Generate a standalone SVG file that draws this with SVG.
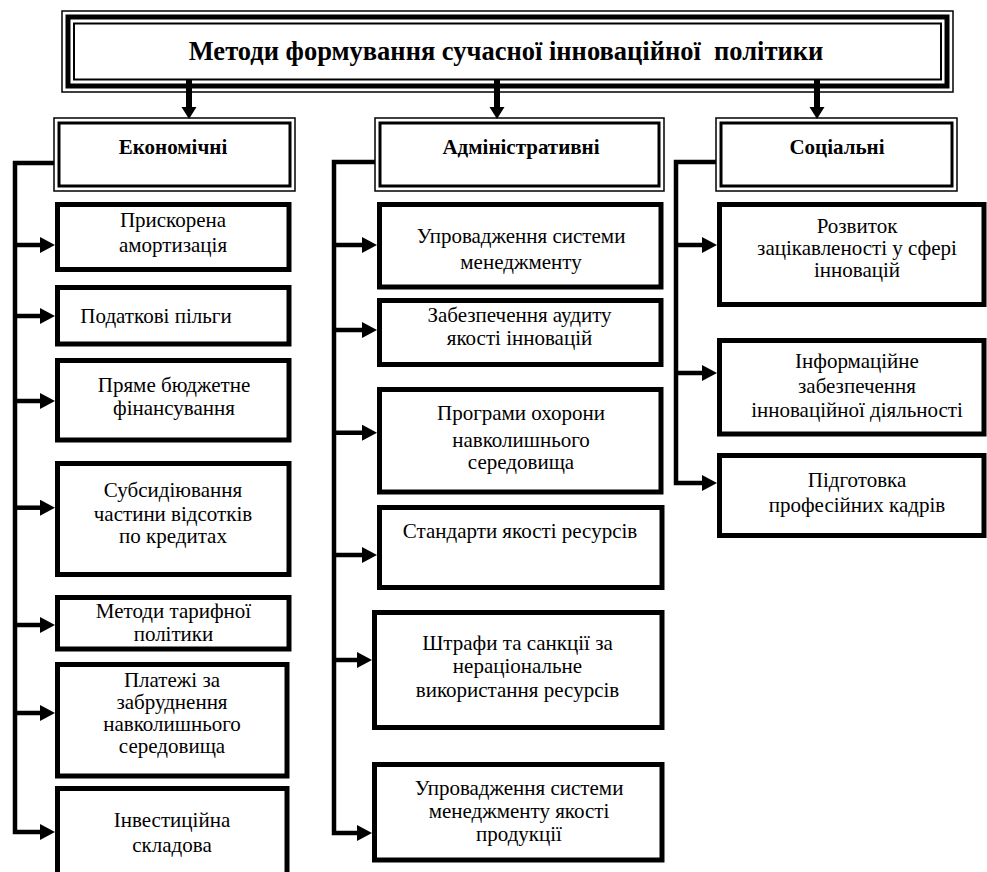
<svg xmlns="http://www.w3.org/2000/svg" width="987" height="872" viewBox="0 0 987 872">
<style>
.bx{fill:#fff;stroke:#000;stroke-width:5}
.t{font-family:"Liberation Serif","Times New Roman",serif;font-size:21px;fill:#000;text-anchor:middle}
.h{font-family:"Liberation Serif","Times New Roman",serif;font-size:21px;font-weight:bold;fill:#000;text-anchor:middle}
.ti{font-family:"Liberation Serif","Times New Roman",serif;font-size:26.5px;font-weight:bold;fill:#000;text-anchor:middle}
.ca{fill:none;stroke:#000;stroke-width:4.5;marker-end:url(#ah)}
.cv{fill:none;stroke:#000;stroke-width:6;marker-end:url(#ahv)}
.o1{fill:none;stroke:#000;stroke-width:1.5}
.o3{fill:none;stroke:#000;stroke-width:3}
</style>
<defs>
<marker id="ah" markerUnits="userSpaceOnUse" markerWidth="16" markerHeight="16" refX="7" refY="8" orient="auto">
<path d="M0,0 L15,8 L0,16 z" fill="#000"/>
</marker>
<marker id="ahv" markerUnits="userSpaceOnUse" markerWidth="13" markerHeight="16" refX="5" refY="7.5" orient="auto">
<path d="M0,0 L12,7.5 L0,15 z" fill="#000"/>
</marker>
</defs>
<rect width="987" height="872" fill="#fff"/>

<g id="title">
<rect x="62" y="11" width="891" height="81" class="o1" fill="#fff"/>
<rect x="68" y="17" width="879" height="69" fill="none" stroke="#000" stroke-width="5"/>
<rect x="74" y="23.5" width="867" height="56" fill="#fff" stroke="#000" stroke-width="2"/>
<text x="506" y="60" class="ti" xml:space="preserve">Методи формування сучасної інноваційної  політики</text>
</g>

<g id="connectors">
<line x1="189" y1="80" x2="189" y2="112" class="cv"/>
<line x1="497" y1="80" x2="497" y2="112" class="cv"/>
<line x1="817" y1="80" x2="817" y2="112" class="cv"/>

<polyline points="54,163 15,163 15,832 47,832" class="ca"/>
<line x1="15" y1="245" x2="47" y2="245" class="ca"/>
<line x1="15" y1="316" x2="47" y2="316" class="ca"/>
<line x1="15" y1="401" x2="47" y2="401" class="ca"/>
<line x1="15" y1="507.7" x2="47" y2="507.7" class="ca"/>
<line x1="15" y1="625" x2="47" y2="625" class="ca"/>
<line x1="15" y1="713" x2="47" y2="713" class="ca"/>

<polyline points="375,162 334,162 334,833 364,833" class="ca"/>
<line x1="334" y1="245" x2="369" y2="245" class="ca"/>
<line x1="334" y1="330" x2="369" y2="330" class="ca"/>
<line x1="334" y1="432.7" x2="369" y2="432.7" class="ca"/>
<line x1="334" y1="555" x2="369" y2="555" class="ca"/>
<line x1="334" y1="660" x2="364" y2="660" class="ca"/>

<polyline points="716,162 676,162 676,483 709,483" class="ca"/>
<line x1="676" y1="245" x2="709" y2="245" class="ca"/>
<line x1="676" y1="373" x2="709" y2="373" class="ca"/>
</g>

<g id="h-econ">
<rect x="54" y="118" width="241" height="73" class="o1" fill="#fff"/>
<rect x="59" y="123" width="231" height="63" class="o3"/>
<text x="173" y="154" class="h">Економічні</text>
</g>
<g id="h-admin">
<rect x="375" y="118" width="289" height="73" class="o1" fill="#fff"/>
<rect x="380" y="123" width="279" height="63" class="o3"/>
<text x="521" y="154" class="h">Адміністративні</text>
</g>
<g id="h-soc">
<rect x="716" y="118" width="241" height="73" class="o1" fill="#fff"/>
<rect x="721" y="123" width="231" height="63" class="o3"/>
<text x="837" y="154" class="h">Соціальні</text>
</g>

<g id="e1"><rect x="57.5" y="204.5" width="231.5" height="65" class="bx"/>
<text class="t"><tspan x="173" y="227">Прискорена</tspan><tspan x="173" y="252">амортизація</tspan></text></g>
<g id="e2"><rect x="57.5" y="287.5" width="231.5" height="56.5" class="bx"/>
<text class="t"><tspan x="156" y="322.7">Податкові пільги</tspan></text></g>
<g id="e3"><rect x="57.5" y="360.5" width="231.5" height="79.5" class="bx"/>
<text class="t"><tspan x="174" y="391.7">Пряме бюджетне</tspan><tspan x="174" y="415">фінансування</tspan></text></g>
<g id="e4"><rect x="57.5" y="463.5" width="231.5" height="111" class="bx"/>
<text class="t"><tspan x="173" y="496.7">Субсидіювання</tspan><tspan x="173" y="520.7">частини відсотків</tspan><tspan x="173" y="543">по кредитах</tspan></text></g>
<g id="e5"><rect x="57.5" y="597.5" width="231.5" height="51.5" class="bx"/>
<text class="t"><tspan x="173.5" y="618">Методи тарифної</tspan><tspan x="173.5" y="640.7">політики</tspan></text></g>
<g id="e6"><rect x="57.5" y="664.5" width="229.5" height="111.5" class="bx"/>
<text class="t"><tspan x="172" y="687">Платежі за</tspan><tspan x="172" y="709">забруднення</tspan><tspan x="172" y="731">навколишнього</tspan><tspan x="172" y="753">середовища</tspan></text></g>
<g id="e7"><rect x="57.5" y="788.5" width="229.5" height="90" class="bx"/>
<text class="t"><tspan x="172" y="826.7">Інвестиційна</tspan><tspan x="172" y="851.7">складова</tspan></text></g>

<g id="a1"><rect x="379.5" y="204.5" width="281.5" height="82.5" class="bx"/>
<text class="t"><tspan x="521" y="243">Упровадження системи</tspan><tspan x="521" y="269">менеджменту</tspan></text></g>
<g id="a2"><rect x="379.5" y="300.5" width="281.5" height="64" class="bx"/>
<text class="t"><tspan x="519.5" y="321.7">Забезпечення аудиту</tspan><tspan x="519.5" y="345">якості інновацій</tspan></text></g>
<g id="a3"><rect x="379.5" y="389.5" width="281.5" height="102.5" class="bx"/>
<text class="t"><tspan x="521" y="420">Програми охорони</tspan><tspan x="521" y="446.7">навколишнього</tspan><tspan x="521" y="469">середовища</tspan></text></g>
<g id="a4"><rect x="379.5" y="507.5" width="282.5" height="80" class="bx"/>
<text class="t"><tspan x="520" y="538">Стандарти якості ресурсів</tspan></text></g>
<g id="a5"><rect x="374.5" y="612.5" width="287.5" height="115" class="bx"/>
<text class="t"><tspan x="517.5" y="650">Штрафи та санкції за</tspan><tspan x="517.5" y="673.3">нераціональне</tspan><tspan x="517.5" y="696.7">використання ресурсів</tspan></text></g>
<g id="a6"><rect x="374.5" y="764.5" width="287.5" height="95.5" class="bx"/>
<text class="t"><tspan x="519" y="795">Упровадження системи</tspan><tspan x="519" y="818">менеджменту якості</tspan><tspan x="519" y="841">продукції</tspan></text></g>

<g id="s1"><rect x="719.5" y="204.5" width="264.5" height="100" class="bx"/>
<text class="t"><tspan x="857" y="233">Розвиток</tspan><tspan x="857" y="255">зацікавленості у сфері</tspan><tspan x="857" y="277">інновацій</tspan></text></g>
<g id="s2"><rect x="719.5" y="340.5" width="264.5" height="93.5" class="bx"/>
<text class="t"><tspan x="857" y="367.7">Інформаційне</tspan><tspan x="857" y="392.7">забезпечення</tspan><tspan x="857" y="416.7">інноваційної діяльності</tspan></text></g>
<g id="s3"><rect x="719.5" y="455.5" width="264.5" height="80" class="bx"/>
<text class="t"><tspan x="857" y="486.7">Підготовка</tspan><tspan x="857" y="511.7">професійних кадрів</tspan></text></g>
</svg>
